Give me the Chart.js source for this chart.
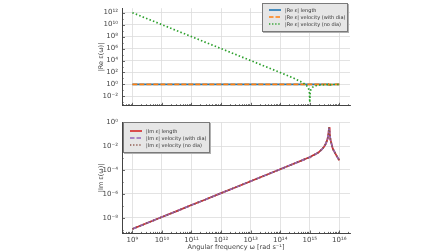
<!DOCTYPE html>
<html><head><meta charset="utf-8">
<script src="https://cdn.jsdelivr.net/npm/chart.js@4"></script>
<style>
html,body{margin:0;padding:0;background:#fff;}
#wrap{position:relative;width:448px;height:252px;overflow:hidden;font-family:"DejaVu Sans",sans-serif;}
canvas{position:absolute;left:0;}
#c1{top:0}
#c2{top:114px}
.leg{position:absolute;box-sizing:border-box;background:#e6e6e6;border:1px solid #7a7a7a;box-shadow:1px 1px 0 #b0b0b0;font-size:5px;color:#333;}
.row{display:flex;align-items:center;white-space:nowrap;}
.row svg{display:block;margin-right:4px;flex:none;}
</style></head>
<body>
<div id="wrap">
<canvas id="c1" width="448" height="114"></canvas>
<canvas id="c2" width="448" height="138"></canvas>
<div class="leg" id="leg1" style="left:262px;top:3px;width:86px;height:29px;padding:3px 0 0 6px;"></div>
<div class="leg" id="leg2" style="left:123px;top:122px;width:87px;height:31px;padding:4px 0 0 6px;"></div>
</div>
<script>
// angular frequency (rad/s)
const omega = [1e9, 3e9, 1e10, 3e10, 1e11, 3e11, 1e12, 3e12, 1e13, 3e13, 1e14, 3e14, 6e14, 8e14, 9e14, 9.7e14, 1e15, 1.03e15, 1.1e15, 1.25e15, 1.6e15, 2e15, 2.5e15, 3e15, 3.5e15, 4e15, 4.3e15, 4.5e15, 4.7e15, 5e15, 6e15, 8e15, 1e16];
// |Re eps|
const reLength   = [1,1,1,1,1,1,1,1,1,1,1,1,1,1,1,1,1,1,1,1,1,1,1,1,1,1.02,1.15,0.85,0.92,0.97,0.99,1,1];
const reVelDia   = [1,1,1,1,1,1,1,1,1,1,1,1,1,1,1,1,1,1,1,1,1,1,1,1,1,1.02,1.15,0.85,0.92,0.97,0.99,1,1];
const reVelNoDia = [1e12, 1.1e11, 1e10, 1.1e9, 1e8, 1.1e7, 1e6, 1.1e5, 1e4, 1.1e3, 99, 10.1, 1.78, 0.56, 0.23, 0.063, 0.001, 0.057, 0.17, 0.36, 0.61, 0.75, 0.84, 0.89, 0.92, 0.95, 1.1, 0.82, 0.9, 0.96, 0.97, 0.98, 0.99];
// |Im eps|
const imLength   = [1.15e-9, 3.4e-9, 1.15e-8, 3.4e-8, 1.15e-7, 3.4e-7, 1.15e-6, 3.4e-6, 1.15e-5, 3.4e-5, 1.15e-4, 3.5e-4, 7e-4, 9.5e-4, 1.07e-3, 1.15e-3, 1.2e-3, 1.25e-3, 1.35e-3, 1.6e-3, 2.2e-3, 3e-3, 5e-3, 8.5e-3, 1.6e-2, 4e-2, 0.12, 0.37, 0.12, 3.5e-2, 6e-3, 1.6e-3, 6.3e-4];
const imVelDia   = imLength.slice();
const imVelNoDia = imLength.slice();
// tick exponents
const xMajorExp = [9, 10, 11, 12, 13, 14, 15, 16];
const yTopExp   = [-2, 0, 2, 4, 6, 8, 10, 12];
const yBotExp   = [-8, -6, -4, -2, 0];
const topLabels = ['|Re ε| length', '|Re ε| velocity (with dia)', '|Re ε| velocity (no dia)'];
const botLabels = ['|Im ε| length', '|Im ε| velocity (with dia)', '|Im ε| velocity (no dia)'];

const SUP = {'0':'⁰','1':'¹','2':'²','3':'³','4':'⁴','5':'⁵','6':'⁶','7':'⁷','8':'⁸','9':'⁹','-':'⁻'};
function pow10Label(e){ return '10' + String(e).split('').map(c=>SUP[c]).join(''); }
function pts(arr){ return omega.map((w,i)=>({x:w, y:arr[i]})); }

const SPINE = '#444', GRID = '#dcdcdc', TXT = '#444';
const FONT = {family:'"DejaVu Sans", sans-serif', size:7};

function xTicks(scale){
  const t = [];
  for (let n = 8; n <= 16; n++) {
    for (let k = 1; k <= 9; k++) {
      const v = k * Math.pow(10, n);
      if (v >= scale.min && v <= scale.max) t.push({value:v, mj: k === 1, e:n});
    }
  }
  scale.ticks = t;
}
function yTicksFrom(exps){
  return function(scale){
    const t = [];
    const lo = Math.ceil(Math.log10(scale.min)), hi = Math.floor(Math.log10(scale.max));
    for (let e = lo; e <= hi; e++) t.push({value:Math.pow(10,e), mj: exps.includes(e), e:e});
    scale.ticks = t;
  };
}
const gridColor = ctx => (ctx.tick && ctx.tick.mj) ? GRID : 'rgba(0,0,0,0)';
const tickLabel = function(v, i, ticks){ const t = ticks[i]; return t.mj ? pow10Label(t.e) : ''; };

const inTicks = {
  id:'inTicks',
  afterDraw(chart){
    const c = chart.ctx, a = chart.chartArea;
    c.save(); c.strokeStyle = SPINE; c.lineWidth = 0.8;
    const xs = chart.scales.x, ys = chart.scales.y;
    xs.ticks.forEach(t => { const p = Math.round(xs.getPixelForValue(t.value)) + 0.5; const L = t.mj ? 3 : 1.6;
      c.beginPath(); c.moveTo(p, a.bottom); c.lineTo(p, a.bottom - L); c.stroke(); });
    ys.ticks.forEach(t => { const p = Math.round(ys.getPixelForValue(t.value)) + 0.5; const L = t.mj ? 3 : 1.6;
      c.beginPath(); c.moveTo(a.left, p); c.lineTo(a.left + L, p); c.stroke(); });
    c.restore();
  }
};

function ds(label, data, color, dash, order){
  return {label, data: pts(data), borderColor: color, borderWidth: 1.7, borderDash: dash, pointRadius: 0, fill: false, tension: 0, order};
}

const common = {
  responsive:false, animation:false, devicePixelRatio:1,
  plugins:{legend:{display:false}, tooltip:{enabled:false}},
};

new Chart(document.getElementById('c1'), {
  type:'line',
  data:{datasets:[
    ds(topLabels[0], reLength, '#1f77b4', [], 3),
    ds(topLabels[1], reVelDia, '#ff7f0e', [5,2], 2),
    ds(topLabels[2], reVelNoDia, '#2ca02c', [1.5,2.2], 1),
  ]},
  options:Object.assign({}, common, {
    layout:{padding:{left:96, right:98, top:0, bottom:0}},
    scales:{
      x:{type:'logarithmic', min:Math.pow(10,8.65), max:Math.pow(10,16.36), bounds:'data',
         afterBuildTicks:xTicks, ticks:{display:false, autoSkip:false},
         grid:{color:gridColor, lineWidth:0.8, drawTicks:false},
         border:{display:true, color:SPINE, width:1},
         afterFit:s=>{s.height=3;}},
      y:{type:'logarithmic', min:Math.pow(10,-3.57), max:Math.pow(10,12.75), bounds:'data',
         afterBuildTicks:yTicksFrom(yTopExp),
         ticks:{autoSkip:false, callback:tickLabel, font:FONT, color:TXT, padding:4},
         grid:{color:gridColor, lineWidth:0.8, drawTicks:false},
         border:{display:true, color:SPINE, width:1},
         title:{display:true, text:'|Re ε(ω)|', font:{family:FONT.family, size:6.5}, color:TXT, padding:{top:1, bottom:0}},
         afterFit:s=>{s.width=26;}}
    }
  }),
  plugins:[inTicks]
});

new Chart(document.getElementById('c2'), {
  type:'line',
  data:{datasets:[
    ds(botLabels[0], imLength, '#d62728', [], 3),
    ds(botLabels[1], imVelDia, '#9467bd', [5,2], 2),
    ds(botLabels[2], imVelNoDia, '#8c564b', [1.5,2.2], 1),
  ]},
  options:Object.assign({}, common, {
    layout:{padding:{left:96, right:98, top:6, bottom:0}},
    scales:{
      x:{type:'logarithmic', min:Math.pow(10,8.65), max:Math.pow(10,16.36), bounds:'data',
         afterBuildTicks:xTicks,
         ticks:{autoSkip:false, maxRotation:0, callback:tickLabel, font:FONT, color:TXT, padding:2},
         grid:{color:gridColor, lineWidth:0.8, drawTicks:false},
         border:{display:true, color:SPINE, width:1},
         title:{display:true, text:'Angular frequency ω [rad s⁻¹]', font:{family:FONT.family, size:6.5}, color:TXT, padding:{top:0, bottom:1}},
         afterFit:s=>{s.height=18.5;}},
      y:{type:'logarithmic', min:Math.pow(10,-9.32), max:Math.pow(10,0), bounds:'data',
         afterBuildTicks:yTicksFrom(yBotExp),
         ticks:{autoSkip:false, callback:tickLabel, font:FONT, color:TXT, padding:4},
         grid:{color:gridColor, lineWidth:0.8, drawTicks:false},
         border:{display:true, color:SPINE, width:1},
         title:{display:true, text:'|Im ε(ω)|', font:{family:FONT.family, size:6.5}, color:TXT, padding:{top:1, bottom:0}},
         afterFit:s=>{s.width=26;}}
    }
  }),
  plugins:[inTicks]
});

// legends (HTML)
function sample(color, dash){
  return '<svg width="12" height="4"><line x1="0" y1="2" x2="12" y2="2" stroke="'+color+'" stroke-width="1.6"'+(dash?' stroke-dasharray="'+dash+'"':'')+'/></svg>';
}
function fillLegend(id, labels, colors, dashes, rowH){
  document.getElementById(id).innerHTML = labels.map((l,i)=>
    '<div class="row" style="height:'+rowH+'px">'+sample(colors[i], dashes[i])+'<span>'+l+'</span></div>').join('');
}
fillLegend('leg1', topLabels, ['#1f77b4','#ff7f0e','#2ca02c'], ['', '4.5,2', '1.3,1.8'], 6.8);
fillLegend('leg2', botLabels, ['#d62728','#9467bd','#8c564b'], ['', '4.5,2', '1.3,1.8'], 7.2);
</script>
</body></html>
